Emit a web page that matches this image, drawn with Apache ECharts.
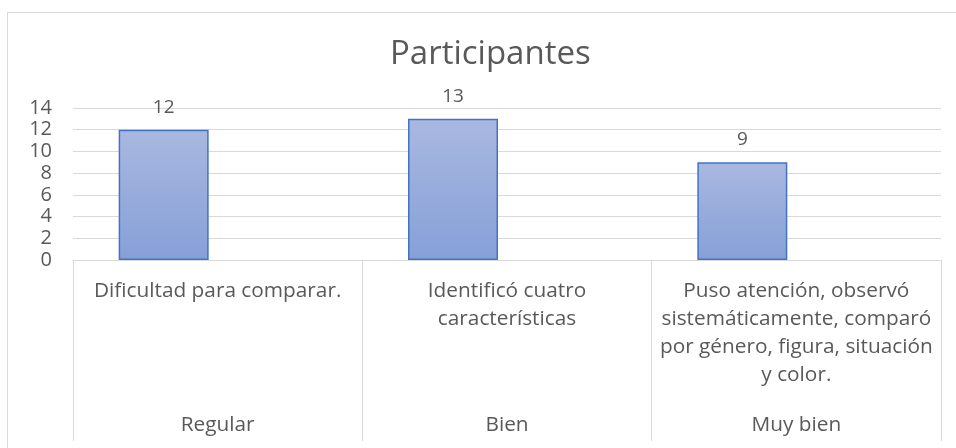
<!DOCTYPE html>
<html>
<head>
<meta charset="utf-8">
<script src="https://cdn.jsdelivr.net/npm/echarts@6/dist/echarts.min.js"></script>
<style>html,body{margin:0;padding:0;background:#fff}#c{width:956px;height:448px}</style>
</head>
<body>
<div id="c"></div>
<script>
const descriptions = [
  'Dificultad para comparar.',
  'Identificó cuatro\ncaracterísticas',
  'Puso atención, observó\nsistemáticamente, comparó\npor género, figura, situación\ny color.'
];
const levels = ['Regular', 'Bien', 'Muy bien'];
const participantes = [12, 13, 9];
const yTicks = {min: 0, max: 14, interval: 2};

const FONT = '"Open Sans"';
const GRAY = '#595959';
const LINE = '#d9d9d9';

const chart = echarts.init(document.getElementById('c'));
chart.setOption({
  animation: false,
  textStyle: {fontFamily: FONT},
  title: {
    text: 'Participantes',
    left: 385,
    top: 33,
    padding: 5,
    textStyle: {fontFamily: FONT, fontSize: 33, fontWeight: 'normal', color: GRAY}
  },
  graphic: [{
    type: 'rect', left: 5, top: 10,
    shape: {width: 1000, height: 500},
    style: {fill: 'none', stroke: LINE, lineWidth: 1},
    silent: true
  }],
  grid: {left: 73, right: 15, top: 108, bottom: 188},
  xAxis: [{
    type: 'category',
    data: descriptions,
    position: 'bottom',
    axisLine: {show: true, lineStyle: {color: LINE, width: 1}},
    axisTick: {show: true, length: 181, interval: 0, lineStyle: {color: LINE, width: 1}},
    axisLabel: {interval: 0, margin: 17, fontFamily: FONT, fontSize: 20.8, color: GRAY, lineHeight: 28, align: 'center'}
  }, {
    type: 'category',
    data: levels,
    position: 'bottom',
    axisLine: {show: false},
    axisTick: {show: false},
    axisLabel: {interval: 0, margin: 151, fontFamily: FONT, fontSize: 20.8, lineHeight: 28, color: GRAY}
  }],
  yAxis: {
    type: 'value',
    min: yTicks.min, max: yTicks.max, interval: yTicks.interval,
    axisLine: {show: false},
    axisTick: {show: false},
    splitLine: {lineStyle: {color: LINE, width: 1}},
    axisLabel: {margin: 21, fontFamily: FONT, fontSize: 20, color: GRAY}
  },
  series: [{
    type: 'bar',
    xAxisIndex: 0,
    data: participantes,
    barWidth: 90,
    barGap: '20%',
    itemStyle: {
      color: new echarts.graphic.LinearGradient(0, 0, 0, 1, [
        {offset: 0, color: '#a9b8e0'},
        {offset: 1, color: '#86a0d8'}
      ]),
      borderColor: '#4472c4',
      borderWidth: 1.5
    },
    label: {show: true, position: 'top', distance: 13, fontFamily: FONT, fontSize: 19, color: GRAY}
  }, {
    type: 'bar',
    xAxisIndex: 0,
    data: [null, null, null],
    barWidth: 90
  }]
});
</script>
</body>
</html>
